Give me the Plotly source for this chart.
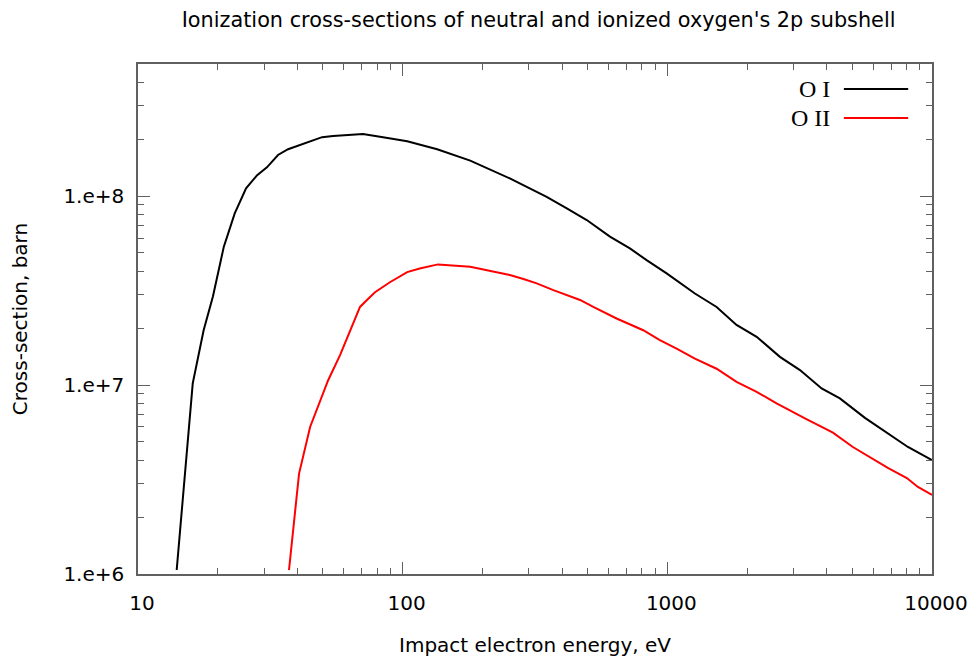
import plotly.graph_objects as go

# Impact electron energy (eV) and ionization cross-section (barn), 2p subshell
energy_o1 = [14.0, 16.1, 17.7, 19.2, 21.1, 23.2, 25.6, 28.2, 30.7, 33.8, 36.9, 41.7,
             49.6, 54.6, 70.8, 84.3, 104, 135, 180, 254, 294, 350, 417, 496, 607, 722,
             835, 994, 1271, 1535, 1826, 2175, 2663, 3170, 3828, 4487, 5580, 6520,
             8110, 10000]
sigma_o1 = [1.05e6, 1.02e7, 1.95e7, 2.95e7, 5.4e7, 8.1e7, 1.1e8, 1.29e8, 1.42e8, 1.65e8,
            1.77e8, 1.88e8, 2.05e8, 2.08e8, 2.13e8, 2.05e8, 1.95e8, 1.77e8, 1.54e8,
            1.24e8, 1.12e8, 9.9e7, 8.6e7, 7.47e7, 6.1e7, 5.29e7, 4.58e7, 3.9e7, 3.05e7,
            2.59e7, 2.08e7, 1.8e7, 1.41e7, 1.2e7, 9.6e6, 8.5e6, 6.7e6, 5.8e6, 4.7e6,
            4.0e6]

energy_o2 = [37.2, 40.6, 44.7, 48.7, 52.3, 58.0, 64.3, 69.0, 73.3, 78.6, 89.5, 104, 116,
             136, 180, 226, 254, 286, 321, 371, 417, 468, 525, 643, 811, 937, 1084,
             1271, 1535, 1826, 2175, 2587, 3311, 4223, 5024, 5824, 6809, 8034, 8846,
             10000]
sigma_o2 = [1.05e6, 3.4e6, 6.0e6, 8.3e6, 1.06e7, 1.44e7, 2.07e7, 2.59e7, 2.82e7, 3.1e7,
            3.5e7, 3.96e7, 4.14e7, 4.35e7, 4.23e7, 3.95e7, 3.82e7, 3.64e7, 3.45e7,
            3.18e7, 2.99e7, 2.82e7, 2.59e7, 2.25e7, 1.95e7, 1.73e7, 1.56e7, 1.38e7,
            1.22e7, 1.04e7, 9.2e6, 8.0e6, 6.67e6, 5.6e6, 4.7e6, 4.16e6, 3.64e6, 3.22e6,
            2.89e6, 2.62e6]

series_names = ["O I", "O II"]
series_colors = ["#000000", "#ff0000"]

x_ticks = [10, 100, 1000, 10000]
x_ticktext = ["10", "100", "1000", "10000"]
y_ticks = [1e6, 1e7, 1e8]
y_ticktext = ["1.e+6", "1.e+7", "1.e+8"]

x_minor = [m * d for d in (10, 100, 1000) for m in range(2, 10)]
y_minor = [m * d for d in (1e6, 1e7, 1e8) for m in range(2, 10) if m * d <= 5e8]

FONT = "DejaVu Sans"
AXIS_COLOR = "#606060"

fig = go.Figure()
for name, xs, ys, col in zip(series_names, [energy_o1, energy_o2],
                             [sigma_o1, sigma_o2], series_colors):
    fig.add_trace(go.Scatter(x=xs, y=ys, mode="lines", name=name,
                             line=dict(color=col, width=2), showlegend=False))

axis_common = dict(
    showgrid=False, zeroline=False, showline=True, linecolor=AXIS_COLOR,
    linewidth=1.5, mirror="ticks", ticks="inside", ticklen=12, tickwidth=1,
    tickcolor=AXIS_COLOR, tickfont=dict(family=FONT, size=20, color="#000"),
    automargin=False,
)

fig.update_xaxes(
    type="log", range=[1, 4], tickmode="array", tickvals=x_ticks,
    ticktext=x_ticktext, ticklabelstandoff=10, ticklabelshift=4,
    minor=dict(tickmode="array", tickvals=x_minor, ticks="inside", ticklen=6,
               tickcolor=AXIS_COLOR, showgrid=False),
    title=dict(text="Impact electron energy, eV",
               font=dict(family=FONT, size=20, color="#000"), standoff=24),
    **axis_common,
)
fig.update_yaxes(
    type="log", range=[6, 8.699], tickmode="array", tickvals=y_ticks,
    ticktext=y_ticktext, ticklabelstandoff=8,
    minor=dict(tickmode="array", tickvals=y_minor, ticks="inside", ticklen=6,
               tickcolor=AXIS_COLOR, showgrid=False),
    title=dict(text="Cross-section, barn",
               font=dict(family=FONT, size=20, color="#000"), standoff=30),
    **axis_common,
)

# gnuplot-style key in the top-right corner: label, then a line sample
legend_rows = [0.951, 0.894]
for name, col, yp in zip(series_names, series_colors, legend_rows):
    fig.add_annotation(x=0.874, y=yp, xref="paper", yref="paper", text=name,
                       showarrow=False, xanchor="right", yanchor="middle",
                       font=dict(family="Liberation Serif", size=24, color="#000"))
    fig.add_shape(type="line", xref="paper", yref="paper",
                  x0=0.889, x1=0.970, y0=yp, y1=yp,
                  line=dict(color=col, width=2))

fig.update_layout(
    width=974, height=661,
    margin=dict(l=138, r=42, t=64, b=87, autoexpand=False),
    plot_bgcolor="white", paper_bgcolor="white",
    title=dict(text="Ionization cross-sections of neutral and ionized oxygen's 2p subshell",
               x=0.553, xanchor="center", y=0.97, yanchor="middle",
               font=dict(family=FONT, size=20.8, color="#000")),
)

fig.write_html("out.html")
